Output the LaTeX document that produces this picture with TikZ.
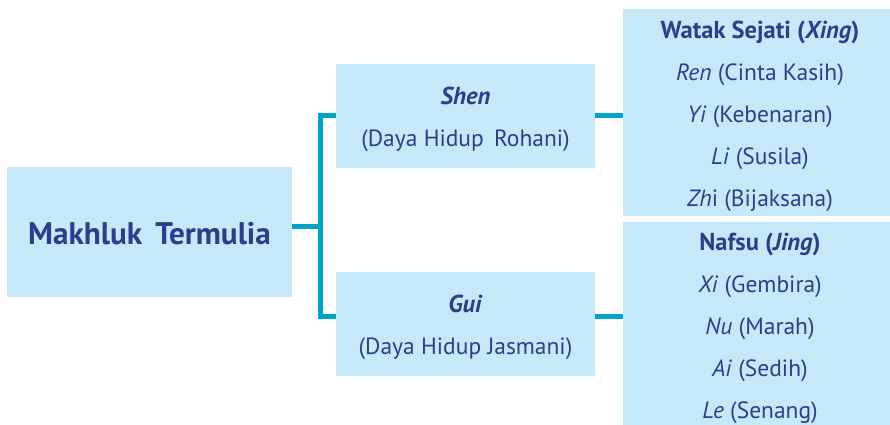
\documentclass[tikz,border=0pt]{standalone}
\usepackage{fontspec}
\setmainfont{PT Sans}
\definecolor{boxfill}{HTML}{C6E9F9}
\definecolor{linkcol}{HTML}{00A4C5}
\definecolor{txt}{HTML}{2B3E8C}
\newcommand{\ttl}[1]{{\fontsize{24.5}{42}\selectfont\bfseries #1}}
\begin{document}
\begin{tikzpicture}[x=1pt,y=-1pt,
  box/.style={fill=boxfill,draw=none,inner sep=0pt},
  label text/.style={inner sep=0pt,align=center,text=txt},
  body/.style={font=\fontsize{23.5}{42}\selectfont},
  link/.style={draw=linkcol,line width=5pt}]
\useasboundingbox (0,0) rectangle (890,424);
% boxes
\node[box,minimum width=285,minimum height=130] (root) at (149.5,232) {};
\node[box,minimum width=259,minimum height=104] (shen) at (465.5,116) {};
\node[box,minimum width=259,minimum height=104] (gui) at (465.5,324) {};
\node[box,minimum width=274,minimum height=207] (xing) at (760,112.5) {};
\node[box,minimum width=274,minimum height=209] (jing) at (760,326.5) {};
% texts
\node[label text,font=\fontsize{31.2}{36}\selectfont\bfseries] (roott) at (149.5,234) {Makhluk\, Termulia};
\node[label text,body] (shent) at (465.5,119.5) {\ttl{\textit{Shen}}\\(Daya Hidup\, Rohani)};
\node[label text,body] (guit) at (465.5,327.5) {\ttl{\textit{Gui}}\\(Daya Hidup Jasmani)};
\node[label text,body] (xingt) at (760,116) {\ttl{Watak Sejati (\textit{Xing})}\\\textit{Ren} (Cinta Kasih)\\\textit{Yi} (Kebenaran)\\\textit{Li} (Susila)\\\textit{Zh}i (Bijaksana)};
\node[label text,body] (jingt) at (760,328) {\ttl{Nafsu (\textit{Jing})}\\\textit{Xi} (Gembira)\\\textit{Nu} (Marah)\\\textit{Ai} (Sedih)\\\textit{Le} (Senang)};
% connectors
\coordinate (jn) at (320,226);
\coordinate (jt) at (320,115);
\coordinate (jb) at (320,316);
\coordinate (rt) at (609,115.5);
\coordinate (rb) at (609,316);
\draw[link] (root.east |- jn) -- (jn);
\draw[link] (shen.west |- jt) -- (jt) -- (jb) -- (gui.west |- jb);
\draw[link] (shen.east |- rt) -- (xing.west |- rt);
\draw[link] (gui.east |- rb) -- (jing.west |- rb);
\end{tikzpicture}
\end{document}
